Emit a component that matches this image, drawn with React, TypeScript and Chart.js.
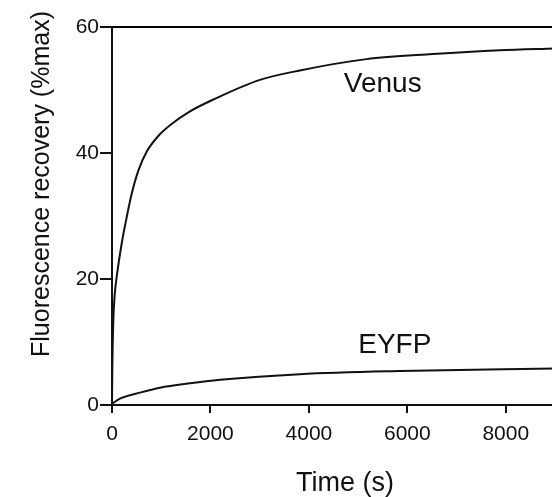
import { useEffect, useRef } from "react";
import { Chart, registerables } from "chart.js";

Chart.register(...registerables);

const venusTime = [0, 6, 27, 55, 100, 196, 298, 399, 535, 704, 941, 1178, 1584, 2091, 3005, 3817, 5170, 6518, 7878, 9000];
const venusValues = [0, 5.4, 13.4, 17.5, 20.6, 25.6, 29.8, 33.5, 37.2, 40.2, 42.7, 44.4, 46.6, 48.6, 51.6, 53.1, 54.9, 55.7, 56.3, 56.6];
const eyfpTime = [0, 162, 569, 975, 1584, 2193, 3817, 5848, 9000];
const eyfpValues = [0.2, 1.0, 1.96, 2.75, 3.45, 4.0, 4.9, 5.4, 5.8];

const xTicks = [0, 2000, 4000, 6000, 8000];
const yTicks = [0, 20, 40, 60];
const xMax = 9000;
const yMax = 60;

const seriesLabels = [
  { text: "Venus", t: 5500, v: 50.9 },
  { text: "EYFP", t: 5746, v: 9.4 },
];
const xTitle = "Time (s)";
const yTitle = "Fluorescence recovery (%max)";

const FONT = '"Liberation Sans", Arial, Helvetica, sans-serif';

export default function App() {
  const ref = useRef<HTMLCanvasElement | null>(null);

  useEffect(() => {
    if (!ref.current) return;
    const textPlugin = {
      id: "texts",
      afterDraw(chart: any) {
        const ctx = chart.ctx;
        const xs = chart.scales.x;
        const ys = chart.scales.y;
        const area = chart.chartArea;
        ctx.save();
        // top frame line
        ctx.strokeStyle = "#000";
        ctx.lineWidth = 2;
        ctx.beginPath();
        ctx.moveTo(area.left, area.top);
        ctx.lineTo(area.right, area.top);
        ctx.stroke();
        ctx.fillStyle = "#111";
        ctx.textAlign = "center";
        ctx.textBaseline = "middle";
        ctx.font = `28px ${FONT}`;
        for (const l of seriesLabels) {
          ctx.fillText(l.text, xs.getPixelForValue(l.t), ys.getPixelForValue(l.v));
        }
        ctx.font = `27px ${FONT}`;
        ctx.fillText(xTitle, (xs.getPixelForValue(0) + xs.getPixelForValue(8000)) / 2 + 36, area.bottom + 79);
        ctx.translate(42, 184);
        ctx.rotate(-Math.PI / 2);
        ctx.font = `25px ${FONT}`;
        ctx.fillText(yTitle, 0, 0);
        ctx.restore();
      },
    };

    const chart = new Chart(ref.current, {
      type: "line",
      data: {
        datasets: [
          {
            label: "Venus",
            data: venusTime.map((t, i) => ({ x: t, y: venusValues[i] })),
            borderColor: "#111",
            borderWidth: 2,
            pointRadius: 0,
            cubicInterpolationMode: "monotone",
            fill: false,
          },
          {
            label: "EYFP",
            data: eyfpTime.map((t, i) => ({ x: t, y: eyfpValues[i] })),
            borderColor: "#111",
            borderWidth: 2,
            pointRadius: 0,
            cubicInterpolationMode: "monotone",
            fill: false,
          },
        ],
      },
      options: {
        animation: false,
        responsive: false,
        layout: { padding: { top: 27, right: 5, left: 0, bottom: 0 } },
        plugins: { legend: { display: false }, tooltip: { enabled: false } },
        scales: {
          x: {
            type: "linear",
            min: 0,
            max: xMax,
            afterBuildTicks: (s: any) => {
              s.ticks = xTicks.map((v) => ({ value: v }));
            },
            afterFit: (s: any) => {
              s.height = 92;
              s.paddingRight = 0;
            },
            ticks: {
              color: "#111",
              font: { family: FONT, size: 21 },
              padding: 9,
              maxRotation: 0,
              autoSkip: false,
              callback: (v: any) => String(v),
            },
            grid: { drawOnChartArea: false, drawTicks: true, tickLength: 8, color: "#111", lineWidth: 2 },
            border: { display: true, color: "#111", width: 2 },
          },
          y: {
            type: "linear",
            min: 0,
            max: yMax,
            afterBuildTicks: (s: any) => {
              s.ticks = yTicks.map((v) => ({ value: v }));
            },
            afterFit: (s: any) => {
              s.width = 112;
            },
            ticks: {
              color: "#111",
              font: { family: FONT, size: 21 },
              padding: 1,
              callback: (v: any) => String(v),
            },
            grid: { drawOnChartArea: false, drawTicks: true, tickLength: 12, color: "#111", lineWidth: 2 },
            border: { display: true, color: "#111", width: 2 },
          },
        },
      },
      plugins: [textPlugin],
    } as any);
    return () => chart.destroy();
  }, []);

  return (
    <div style={{ position: "absolute", left: 0, top: 0, width: 552, height: 497, overflow: "hidden", background: "#fff" }}>
      <canvas ref={ref} width={560} height={497} style={{ width: 560, height: 497, display: "block" }} />
    </div>
  );
}
